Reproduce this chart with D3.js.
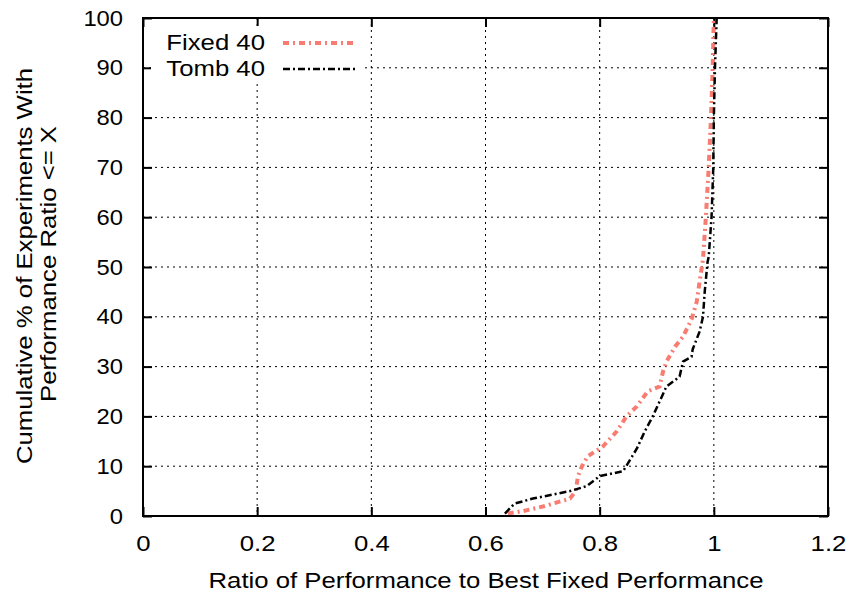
<!DOCTYPE html>
<html>
<head>
<meta charset="utf-8">
<script src="https://cdn.jsdelivr.net/npm/d3@7"></script>
<style>
  body { margin: 0; background: #fff; }
  svg { display: block; font-family: 'Liberation Sans', Arial, sans-serif; }
</style>
</head>
<body>
<svg id="chart" width="854" height="593"></svg>
<script>
// cumulative % (y) vs ratio (x)
const fixedX = [0.639, 0.666, 0.704, 0.748, 0.758, 0.762, 0.769, 0.779, 0.806, 0.830, 0.847, 0.865, 0.884, 0.905, 0.911, 0.917, 0.932, 0.946, 0.961, 0.970, 0.975, 0.981, 0.986, 0.991, 0.995, 0.998, 1.0];
const fixedY = [0.5, 1, 2, 3.5, 5, 8, 10, 12, 14, 17, 20, 22, 25, 26, 29, 31, 34, 36, 39.5, 43, 47, 51.5, 60, 70, 80, 90, 100];
const tombX = [0.634, 0.651, 0.683, 0.748, 0.777, 0.800, 0.841, 0.865, 0.879, 0.893, 0.911, 0.917, 0.940, 0.946, 0.961, 0.963, 0.975, 0.981, 0.984, 0.989, 0.991, 0.996, 0.999, 1.0, 1.002, 1.005];
const tombY = [0.5, 2.5, 3.5, 5, 6, 8, 9, 13.5, 17, 20, 24.5, 26, 28, 31, 32, 33.5, 37, 40, 45, 51, 52, 60, 70, 80, 90, 100];
const seriesNames = ['Fixed 40', 'Tomb 40'];
const xTicks = [0, 0.2, 0.4, 0.6, 0.8, 1, 1.2];
const yTicks = [0, 10, 20, 30, 40, 50, 60, 70, 80, 90, 100];

const svg = d3.select('#chart');
const margin = { left: 143, right: 26, top: 18, bottom: 77 };
const width = 854 - margin.left - margin.right;
const height = 593 - margin.top - margin.bottom;
const fontSize = 22;
const sx = 1.17; // reference glyphs run wider than Liberation Sans
const syTick = 1.08;

const x = d3.scaleLinear().domain([0, 1.2]).range([0, width]);
const y = d3.scaleLinear().domain([0, 100]).range([height, 0]);

const g = svg.append('g').attr('transform', `translate(${margin.left},${margin.top})`);

// dotted grid
g.selectAll('.gx').data(xTicks.filter((d) => d > 0 && d < 1.2)).join('line')
  .attr('x1', (d) => x(d)).attr('x2', (d) => x(d))
  .attr('y1', 0).attr('y2', height)
  .attr('stroke', '#000').attr('stroke-width', 1).attr('stroke-dasharray', '2,4');
g.selectAll('.gy').data(yTicks.filter((d) => d > 0 && d < 100)).join('line')
  .attr('x1', 0).attr('x2', width)
  .attr('y1', (d) => y(d)).attr('y2', (d) => y(d))
  .attr('stroke', '#000').attr('stroke-width', 1).attr('stroke-dasharray', '2,4');

// axes with mirrored inner ticks
const tickLen = 9;
const yPad = 20;
const xAxis = g.append('g').attr('transform', `translate(0,${height})`)
  .call(d3.axisBottom(x).tickValues(xTicks).tickSize(-tickLen).tickFormat(d3.format('')));
const xTop = g.append('g').call(d3.axisTop(x).tickValues(xTicks).tickSize(-tickLen).tickFormat(''));
const yAxis = g.append('g')
  .call(d3.axisLeft(y).tickValues(yTicks).tickSize(-tickLen).tickPadding(yPad));
const yRight = g.append('g').attr('transform', `translate(${width},0)`)
  .call(d3.axisRight(y).tickValues(yTicks).tickSize(-tickLen).tickFormat(''));
[xAxis, xTop, yAxis, yRight].forEach((a) => {
  a.select('.domain').remove();
  a.selectAll('.tick line').attr('stroke', '#000').attr('stroke-width', 2);
  a.selectAll('text').attr('font-size', fontSize).attr('fill', '#000')
    .attr('font-family', "'Liberation Sans', Arial, sans-serif");
});
xAxis.selectAll('.tick text').attr('dy', null).attr('y', 35)
  .attr('transform', `scale(${sx},1)`);
yAxis.selectAll('.tick text').attr('x', -yPad / syTick)
  .attr('transform', `scale(${syTick},1)`);

// legend box (opaque)
g.append('rect').attr('x', 8).attr('y', 8).attr('width', 214).attr('height', 58).attr('fill', '#fff');

const line = d3.line().x((d) => x(d[0])).y((d) => y(d[1]));
const styles = [
  { color: '#f87c71', width: 4, dash: '6,4,2,4' },
  { color: '#000', width: 2.5, dash: '7,3,2,3' },
];
const data = [d3.zip(fixedX, fixedY), d3.zip(tombX, tombY)];

data.forEach((pts, i) => {
  g.append('path').datum(pts).attr('d', line)
    .attr('fill', 'none').attr('stroke', styles[i].color)
    .attr('stroke-width', styles[i].width).attr('stroke-dasharray', styles[i].dash);
});

// wide text placed at (tx, ty), rotated by rot
function wideText(parent, tx, ty, rot, anchor, str) {
  return parent.append('text')
    .attr('transform', `translate(${tx},${ty}) rotate(${rot}) scale(${sx},1)`)
    .attr('text-anchor', anchor).attr('font-size', fontSize).attr('fill', '#000')
    .text(str);
}

// legend
seriesNames.forEach((name, i) => {
  const ly = 25 + i * 26;
  wideText(g, 122, ly + 7, 0, 'end', name);
  g.append('line').attr('x1', 140).attr('x2', 212).attr('y1', ly).attr('y2', ly)
    .attr('stroke', styles[i].color).attr('stroke-width', styles[i].width)
    .attr('stroke-dasharray', styles[i].dash);
});

// frame
g.append('rect').attr('width', width).attr('height', height)
  .attr('fill', 'none').attr('stroke', '#000').attr('stroke-width', 2);

// axis titles
wideText(svg, 486, 588, 0, 'middle', 'Ratio of Performance to Best Fixed Performance');
wideText(svg, 32, 266, -90, 'middle', 'Cumulative % of Experiments With');
wideText(svg, 56, 264, -90, 'middle', 'Performance Ratio <= X');
</script>
</body>
</html>
